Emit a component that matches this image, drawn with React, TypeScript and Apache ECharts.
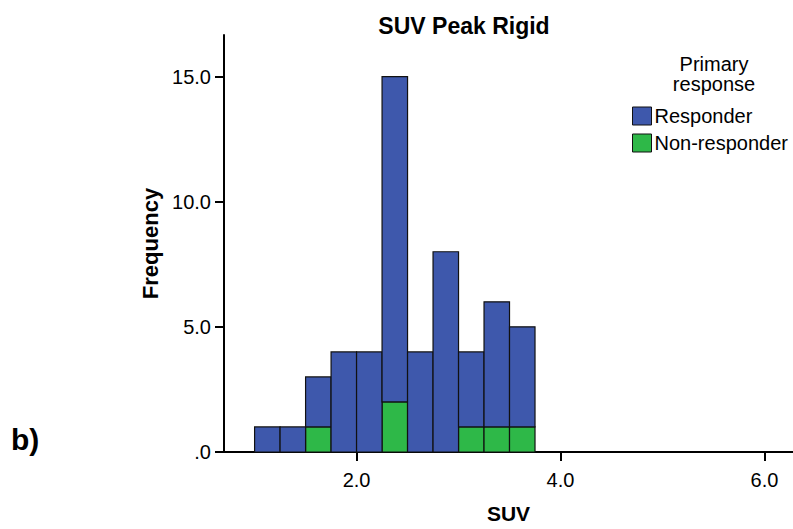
import React, { useEffect, useRef } from "react";
import * as echarts from "echarts";

const binEdges = [1.0, 1.25, 1.5, 1.75, 2.0, 2.25, 2.5, 2.75, 3.0, 3.25, 3.5, 3.75];
const nonResponder = [0, 0, 1, 0, 0, 2, 0, 0, 1, 1, 1];
const responder = [1, 1, 2, 4, 4, 13, 4, 8, 3, 5, 4];
const xTicks = [2, 4, 6];
const yTicks = [0, 5, 10, 15];

const BLUE = "#3e58ac";
const GREEN = "#2eb848";
const FONT = "'Liberation Sans', Arial, sans-serif";

export default function App() {
  const ref = useRef<HTMLDivElement>(null);
  useEffect(() => {
    if (!ref.current) return;
    const chart = echarts.init(ref.current, null, { renderer: "svg" });

    const greenData: number[][] = [];
    const blueData: number[][] = [];
    for (let i = 0; i < responder.length; i++) {
      const x0 = binEdges[i];
      const x1 = binEdges[i + 1];
      const g = nonResponder[i];
      const b = responder[i];
      if (g > 0) greenData.push([x0, x1, 0, g]);
      if (b > 0) blueData.push([x0, x1, g, g + b]);
    }

    const renderItem = (color: string) => (params: any, api: any) => {
      const p0 = api.coord([api.value(0), api.value(2)]);
      const p1 = api.coord([api.value(1), api.value(3)]);
      return {
        type: "rect",
        shape: { x: p0[0], y: p1[1], width: p1[0] - p0[0], height: p0[1] - p1[1] },
        style: { fill: color, stroke: "#111", lineWidth: 1.2 },
      };
    };

    chart.setOption({
      animation: false,
      backgroundColor: "#fff",
      textStyle: { fontFamily: FONT },
      title: {
        text: "SUV Peak Rigid",
        left: 459,
        top: 9,
        textAlign: "center",
        textStyle: { fontSize: 23, fontWeight: "bold", color: "#000", fontFamily: FONT },
      },
      grid: { left: 224, top: 35, right: 0, bottom: 73, containLabel: false },
      legend: {
        orient: "vertical",
        left: 632,
        top: 106,
        padding: 0,
        itemWidth: 19,
        itemHeight: 18,
        itemGap: 7,
        icon: "rect",
        selectedMode: false,
        textStyle: { fontSize: 20, color: "#000", fontFamily: FONT, padding: [0, 0, 0, -2] },
        itemStyle: { borderColor: "#111", borderWidth: 1 },
        data: ["Responder", "Non-responder"],
      },
      graphic: [
        {
          type: "text",
          x: 714,
          y: 54,
          style: {
            text: "Primary\nresponse",
            fontSize: 20,
            lineHeight: 20,
            fontFamily: FONT,
            fill: "#000",
            align: "center",
          },
        },
        {
          type: "text",
          x: 11,
          y: 424,
          style: { text: "b)", fontSize: 30, fontWeight: "bold", fontFamily: FONT, fill: "#000" },
        },
      ],
      xAxis: {
        type: "value",
        min: 0.7,
        max: 6.28,
        name: "SUV",
        nameLocation: "middle",
        nameGap: 51,
        nameTextStyle: { fontSize: 21, fontWeight: "bold", color: "#000", fontFamily: FONT },
        splitLine: { show: false },
        axisLine: { show: true, onZero: false, lineStyle: { color: "#000", width: 2 } },
        axisTick: { show: true, length: 9, customValues: xTicks, lineStyle: { color: "#000", width: 2 } },
        axisLabel: {
          customValues: xTicks,
          margin: 18,
          fontSize: 20,
          color: "#000",
          fontFamily: FONT,
          formatter: (v: number) => v.toFixed(1),
        },
      },
      yAxis: {
        type: "value",
        min: 0,
        max: 16.66,
        name: "Frequency",
        nameLocation: "middle",
        nameGap: 58,
        nameTextStyle: { fontSize: 22, fontWeight: "bold", color: "#000", fontFamily: FONT },
        splitLine: { show: false },
        axisLine: { show: true, onZero: false, lineStyle: { color: "#000", width: 2 } },
        axisTick: { show: true, length: 9, customValues: yTicks, lineStyle: { color: "#000", width: 2 } },
        axisLabel: {
          customValues: yTicks,
          margin: 13,
          fontSize: 20,
          color: "#000",
          fontFamily: FONT,
          formatter: (v: number) => (v === 0 ? ".0" : v.toFixed(1)),
        },
      },
      series: [
        {
          name: "Non-responder",
          type: "custom",
          renderItem: renderItem(GREEN),
          itemStyle: { color: GREEN, borderColor: "#111", borderWidth: 1 },
          encode: { x: [0, 1], y: [2, 3] },
          data: greenData,
          z: 2,
        },
        {
          name: "Responder",
          type: "custom",
          renderItem: renderItem(BLUE),
          itemStyle: { color: BLUE, borderColor: "#111", borderWidth: 1 },
          encode: { x: [0, 1], y: [2, 3] },
          data: blueData,
          z: 2,
        },
      ],
    });
    return () => chart.dispose();
  }, []);
  return (
    <div
      ref={ref}
      style={{ position: "fixed", left: 0, top: 0, width: 793, height: 529, background: "#fff" }}
    />
  );
}
